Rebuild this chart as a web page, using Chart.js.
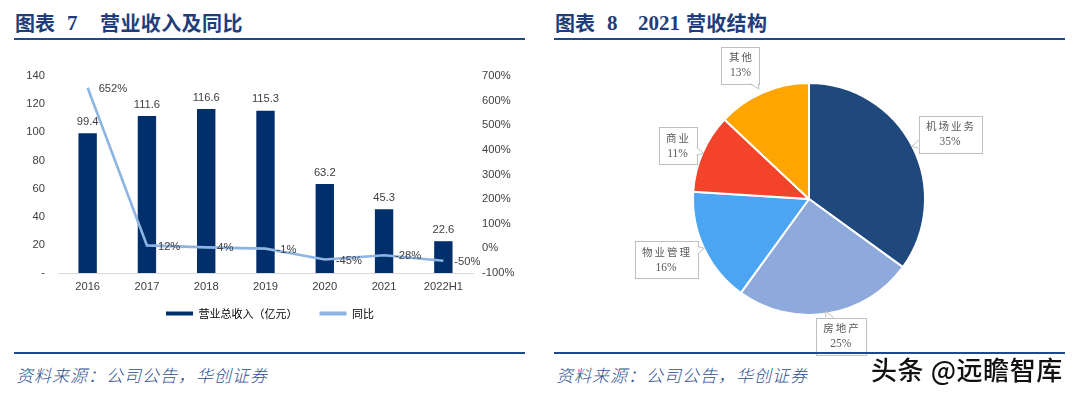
<!DOCTYPE html>
<html>
<head>
<meta charset="utf-8">
<script src="https://cdn.jsdelivr.net/npm/chart.js@4.4.1/dist/chart.umd.min.js"></script>
<style>
html,body{margin:0;padding:0;background:#fff;}
body{width:1080px;height:397px;overflow:hidden;position:relative;}
.tt{position:absolute;top:9px;line-height:28px;font-size:20px;font-weight:bold;color:#1F3D7A;white-space:nowrap;font-family:"Noto Sans CJK SC",sans-serif;}
.num{font-family:"Liberation Serif","Times New Roman",serif;font-size:21px;}
.rule{position:absolute;height:2px;background:#1F4A8A;}
.src{position:absolute;top:362px;line-height:26px;font-size:17px;font-style:italic;color:#2E4F8E;letter-spacing:1px;white-space:nowrap;font-family:"Noto Sans CJK SC",sans-serif;font-weight:300;}
.wm{position:absolute;left:871px;top:352px;line-height:34px;font-size:26px;font-weight:500;letter-spacing:0.6px;color:#111;white-space:nowrap;font-family:"Noto Sans CJK SC",sans-serif;text-shadow:0 0 2px #fff,0 0 2px #fff;z-index:5;}
#c1{position:absolute;left:0;top:0;}
#c2{position:absolute;left:554px;top:42px;}
</style>
</head>
<body>
<span class="tt" style="left:15px">图表</span>
<span class="tt num" style="left:67px">7</span>
<span class="tt" style="left:100px;letter-spacing:0.4px">营业收入及同比</span>

<span class="tt" style="left:555px">图表</span>
<span class="tt num" style="left:607px">8</span>
<span class="tt num" style="left:638px">2021</span>
<span class="tt" style="left:686px;letter-spacing:0.3px">营收结构</span>

<canvas id="c1" width="540" height="342"></canvas>
<canvas id="c2" width="511" height="318"></canvas>

<div class="rule" style="left:14px;top:38px;width:511px"></div>
<div class="rule" style="left:554px;top:38px;width:511px"></div>
<div class="rule" style="left:14px;top:352px;width:511px;z-index:3"></div>
<div class="rule" style="left:554px;top:352px;width:511px;z-index:3"></div>

<span class="src" style="left:16px">资料来源：公司公告，华创证券</span>
<span class="src" style="left:556px">资料来源：公司公告，华创证券</span>
<span class="wm">头条 @远瞻智库</span>

<script>
// ---- data ----
const categories = ['2016', '2017', '2018', '2019', '2020', '2021', '2022H1'];
const revenue = [99.4, 111.6, 116.6, 115.3, 63.2, 45.3, 22.6];
const yoy = [652, 12, 4, -1, -45, -28, -50];
const seriesNames = ['营业总收入（亿元）', '同比'];
const pieLabels = ['机场业务', '房地产', '物业管理', '商业', '其他'];
const pieValues = [35, 25, 16, 11, 13];

const tickFont = {family: '"Liberation Sans", Arial, sans-serif', size: 11.2};
const tickColor = '#404040';

const valueLabels = {
  id: 'valueLabels',
  afterDatasetsDraw(chart) {
    const ctx = chart.ctx;
    ctx.save();
    ctx.font = '11.2px "Liberation Sans", Arial, sans-serif';
    ctx.fillStyle = '#404040';
    ctx.textBaseline = 'middle';
    ctx.textAlign = 'center';
    chart.getDatasetMeta(0).data.forEach((el, i) => {
      ctx.fillText(revenue[i].toFixed(1), el.x, el.y - 11.5);
    });
    ctx.textAlign = 'left';
    chart.getDatasetMeta(1).data.forEach((el, i) => {
      ctx.fillText(yoy[i] + '%', el.x + 11, el.y + 1);
    });
    ctx.restore();
  }
};

// move the legend up closer to the axis labels
const legendShift = {
  id: 'legendShift',
  afterLayout(chart) {
    if (chart.legend) {
      chart.legend.top -= 13;
      chart.legend.bottom -= 13;
    }
  }
};

new Chart(document.getElementById('c1'), {
  data: {
    labels: categories,
    datasets: [
      {
        type: 'bar', label: seriesNames[0], data: revenue, yAxisID: 'y',
        backgroundColor: '#002F6C', borderWidth: 0,
        barPercentage: 0.31, categoryPercentage: 1.0, order: 1
      },
      {
        type: 'line', label: seriesNames[1], data: yoy, yAxisID: 'y1',
        borderColor: '#8DB4E2', backgroundColor: '#8DB4E2', borderWidth: 2.6,
        pointRadius: 0, tension: 0, order: 0
      }
    ]
  },
  options: {
    responsive: false,
    animation: false,
    events: [],
    layout: {padding: {top: 76, left: 0, right: 0, bottom: 0}},
    plugins: {
      tooltip: {enabled: false},
      legend: {
        position: 'bottom',
        labels: {
          boxWidth: 27, boxHeight: 4, padding: 22,
          color: '#404040',
          font: {family: '"Noto Sans CJK SC", sans-serif', size: 11},
          generateLabels(chart) {
            return chart.data.datasets.map((ds, i) => ({
              text: ds.label, fillStyle: ds.backgroundColor,
              strokeStyle: ds.backgroundColor, lineWidth: 0,
              hidden: false, datasetIndex: i
            }));
          }
        }
      }
    },
    scales: {
      x: {
        grid: {display: false, drawTicks: false},
        border: {display: true, color: '#D9D9D9', width: 1},
        ticks: {font: tickFont, color: tickColor, padding: 7, maxRotation: 0, autoSkip: false},
        afterFit(s) { s.height = 26; }
      },
      y: {
        position: 'left', min: 0, max: 140,
        grid: {display: false, drawTicks: false},
        border: {display: false},
        ticks: {stepSize: 20, font: tickFont, color: tickColor, padding: 13,
          callback: v => (v === 0 ? '-' : v)},
        afterFit(s) { s.width = 58; }
      },
      y1: {
        position: 'right', min: -100, max: 700,
        grid: {display: false, drawTicks: false},
        border: {display: false},
        ticks: {stepSize: 100, font: tickFont, color: tickColor, padding: 9,
          callback: v => v + '%'},
        afterFit(s) { s.width = 67; }
      }
    }
  },
  plugins: [valueLabels, legendShift]
});

// ---- pie ----
const calloutLabels = {
  id: 'calloutLabels',
  afterDatasetsDraw(chart, args, opts) {
    const ctx = chart.ctx;
    const meta = chart.getDatasetMeta(0);
    meta.data.forEach((arc, i) => {
      const p = arc.getProps(['x', 'y', 'startAngle', 'endAngle', 'outerRadius'], true);
      const mid0 = (p.startAngle + p.endAngle) / 2;
      const mid = mid0 + (opts.angleShift[i] || 0) * Math.PI / 180;
      const d = p.outerRadius * opts.distance[i];
      const bx = p.x + Math.cos(mid) * d;
      const by = p.y + Math.sin(mid) * d;
      const line1 = pieLabels[i];
      const line2 = pieValues[i] + '%';
      ctx.save();
      ctx.font = '10.5px "Noto Sans CJK SC", serif';
      try { ctx.letterSpacing = '2px'; } catch (e) {}
      const w1 = ctx.measureText(line1).width;
      ctx.font = '11.5px "Liberation Serif", serif';
      try { ctx.letterSpacing = '0px'; } catch (e) {}
      const w2 = ctx.measureText(line2).width;
      const w = Math.round(Math.max(w1, w2) + 13);
      const h = 37;
      const x0 = Math.round(bx - w / 2) + 0.5, y0 = Math.round(by - h / 2) + 0.5;
      // tail direction toward arc edge
      const ax = p.x + Math.cos(mid0) * p.outerRadius;
      const ay = p.y + Math.sin(mid0) * p.outerRadius;
      let dx = ax - bx, dy = ay - by;
      const len = Math.hypot(dx, dy) || 1;
      dx /= len; dy /= len;
      const t = Math.min((w / 2) / Math.abs(dx || 1e-6), (h / 2) / Math.abs(dy || 1e-6));
      const ex = bx + dx * t, ey = by + dy * t;
      const vertEdge = (w / 2) / Math.abs(dx || 1e-6) < (h / 2) / Math.abs(dy || 1e-6);
      const bw = 4;
      let b1x, b1y, b2x, b2y;
      if (vertEdge) {
        const yy = Math.max(y0 + bw + 1, Math.min(y0 + h - bw - 1, ey));
        b1x = ex; b2x = ex; b1y = yy - bw; b2y = yy + bw;
      } else {
        const xx = Math.max(x0 + bw + 1, Math.min(x0 + w - bw - 1, ex));
        b1y = ey; b2y = ey; b1x = xx - bw; b2x = xx + bw;
      }
      const tx = (b1x + b2x) / 2 + dx * 7, ty = (b1y + b2y) / 2 + dy * 7;
      ctx.fillStyle = '#fff';
      ctx.strokeStyle = '#BFBFBF';
      ctx.lineWidth = 1;
      ctx.fillRect(x0, y0, w, h);
      ctx.strokeRect(x0, y0, w, h);
      ctx.beginPath();
      ctx.moveTo(b1x, b1y); ctx.lineTo(tx, ty); ctx.lineTo(b2x, b2y); ctx.closePath();
      ctx.fill();
      ctx.beginPath();
      ctx.moveTo(b1x, b1y); ctx.lineTo(tx, ty); ctx.lineTo(b2x, b2y);
      ctx.stroke();
      ctx.fillStyle = '#595959';
      ctx.textAlign = 'center';
      ctx.textBaseline = 'middle';
      ctx.font = '10.5px "Noto Sans CJK SC", serif';
      try { ctx.letterSpacing = '2px'; } catch (e) {}
      ctx.fillText(line1, bx + 1, by - 8);
      ctx.font = '11.5px "Liberation Serif", serif';
      try { ctx.letterSpacing = '0px'; } catch (e) {}
      ctx.fillText(line2, bx, by + 8);
      ctx.restore();
    });
  }
};

new Chart(document.getElementById('c2'), {
  type: 'pie',
  data: {
    labels: pieLabels,
    datasets: [{
      data: pieValues,
      backgroundColor: ['#1F497D', '#8EA9DB', '#4BA5F2', '#F3432B', '#FFA502'],
      borderColor: '#ffffff',
      borderWidth: 2,
      hoverOffset: 0
    }]
  },
  options: {
    responsive: false,
    animation: false,
    events: [],
    layout: {padding: {left: 138, right: 139, top: 39, bottom: 43}},
    plugins: {
      legend: {display: false},
      tooltip: {enabled: false},
      calloutLabels: {
        distance: [1.339, 1.213, 1.34, 1.222, 1.297],
        angleShift: [2.3, -4.1, 2.1, -1.4, -3.7]
      }
    }
  },
  plugins: [calloutLabels]
});
</script>
</body>
</html>
